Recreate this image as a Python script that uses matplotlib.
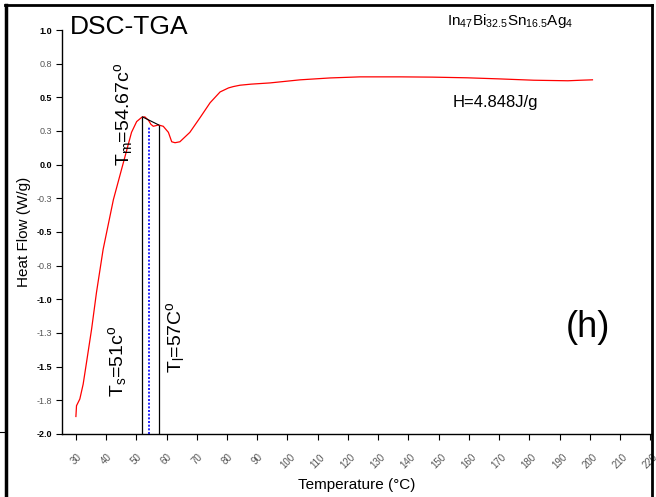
import matplotlib
matplotlib.use("Agg")
import matplotlib.pyplot as plt
from matplotlib.lines import Line2D

plt.rcParams['font.family'] = ['Liberation Sans', 'DejaVu Sans']
plt.rcParams['mathtext.fontset'] = 'custom'
plt.rcParams['mathtext.rm'] = 'Liberation Sans'
plt.rcParams['mathtext.it'] = 'Liberation Sans'
plt.rcParams['mathtext.default'] = 'regular'

# DSC curve
temp = [30.0, 30.2, 31.3, 32.4, 33.5, 35.2, 36.8, 39.0, 42.4, 45.7, 48.4, 50.1,
        51.8, 52.8, 54.0, 54.8, 55.6, 56.5, 57.3, 58.9, 60.6, 61.7, 62.8, 64.4,
        67.7, 71.1, 74.4, 77.7, 80.5, 82.1, 84.3, 88.0, 94.2, 104.2, 114.1, 124.0,
        137.3, 148.0, 159.5, 170.0, 181.5, 192.8, 197.0, 200.9]
heat = [-1.87, -1.79, -1.74, -1.63, -1.47, -1.22, -0.95, -0.63, -0.26, 0.015, 0.24, 0.32,
        0.352, 0.355, 0.33, 0.30, 0.285, 0.29, 0.295, 0.285, 0.24, 0.17, 0.163, 0.17,
        0.24, 0.35, 0.46, 0.54, 0.57, 0.58, 0.59, 0.598, 0.607, 0.63, 0.644, 0.652,
        0.652, 0.65, 0.645, 0.637, 0.627, 0.623, 0.627, 0.63]

t_solidus = 52.0
t_peak = 54.3
t_liquidus = 57.4
top_solidus = 0.355
top_peak = 0.29
top_liquidus = 0.295

x_ticks = list(range(30, 221, 10))
y_ticks = [-2.0, -1.75, -1.5, -1.25, -1.0, -0.75, -0.5, -0.25, 0.0, 0.25, 0.5, 0.75, 1.0]
y_labels = ['-2.0', '-1.8', '-1.5', '-1.3', '-1.0', '-0.8', '-0.5', '-0.3', '0.0', '0.3', '0.5', '0.8', '1.0']

fig = plt.figure(figsize=(6.56, 4.97), dpi=100)
ax = fig.add_axes([62 / 656, 1 - 434 / 497, 590 / 656, 404 / 497])

ax.plot(temp, heat, color='red', lw=0.9)
ax.vlines([t_solidus, t_liquidus], -2.0, [top_solidus, top_liquidus], color='black', lw=0.9)
ax.vlines([t_peak], -2.0, [top_peak], color='blue', lw=1.2, linestyles=(0, (1.2, 1.0)))
ax.plot([t_solidus, t_liquidus], [top_solidus, top_liquidus], color='black', lw=0.8)

ax.set_xlim(25.4, 220.6)
ax.set_ylim(-2.0, 1.0)
for s in ['top', 'right']:
    ax.spines[s].set_visible(False)
ax.spines['left'].set_linewidth(1.0)
ax.spines['bottom'].set_linewidth(1.0)

ax.set_xticks(x_ticks)
ax.set_xticklabels([str(v) for v in x_ticks], rotation=45, fontsize=7, color='#555555')
ax.tick_params(axis='x', direction='out', length=4, pad=9)
ax.set_yticks(y_ticks)
ax.set_yticklabels(y_labels, fontsize=6.5)
ax.tick_params(axis='y', direction='out', length=4, pad=3)
for lbl, v in zip(ax.get_yticklabels(), y_ticks):
    if abs(v * 2 - round(v * 2)) < 1e-9:
        lbl.set_fontweight('bold')
        lbl.set_color('black')
    else:
        lbl.set_color('#555555')

ax.set_xlabel('Temperature (°C)', fontsize=11, labelpad=5)
ax.set_ylabel('Heat Flow (W/g)', fontsize=11, labelpad=4)

ax.text(28.0, 1.02, 'DSC-TGA', fontsize=19, va='center', ha='left', clip_on=False)
ax.text(173.7, 1.07, r'In$_{47}$Bi$_{32.5}$Sn$_{16.5}$Ag$_4$', fontsize=11,
        va='center', ha='center', clip_on=False)
ax.text(168.7, 0.46, 'H=4.848J/g', fontsize=12, va='center', ha='center')
ax.text(199.5, -1.21, '(h)', fontsize=26, va='center', ha='center')
ax.text(45.9, 0.37, r'T$_m$=54.67c$^o$', fontsize=14, rotation=90, va='center', ha='center')
ax.text(43.9, -1.46, r'T$_s$=51c$^o$', fontsize=14, rotation=90, va='center', ha='center')
ax.text(62.8, -1.28, r'T$_l$=57C$^o$', fontsize=14, rotation=90, va='center', ha='center')

# outer frame of the scanned figure
fig.add_artist(Line2D([6 / 656, 6 / 656], [0, 1 - 5 / 497], color='black', lw=2.5))
fig.add_artist(Line2D([5 / 656, 652 / 656], [1 - 5 / 497, 1 - 5 / 497], color='black', lw=2.0))
fig.add_artist(Line2D([651.5 / 656, 651.5 / 656], [0, 1 - 5 / 497], color='black', lw=2.0))
fig.add_artist(Line2D([0, 4 / 656], [1 - 432 / 497, 1 - 432 / 497], color='black', lw=0.8))

fig.savefig('out.png', dpi=100)
